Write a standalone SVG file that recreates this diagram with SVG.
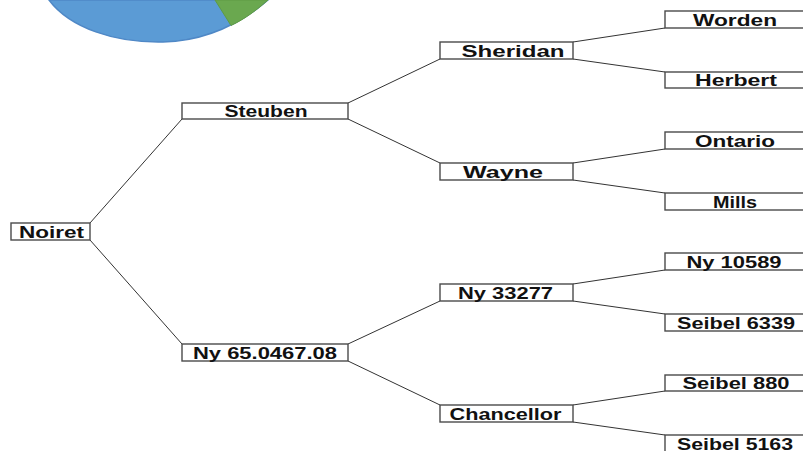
<svg xmlns="http://www.w3.org/2000/svg" width="803" height="451" viewBox="0 0 803 451">
<style>
.box{fill:#fff;stroke:#4a4a4a;stroke-width:1.4}
.lbl{font-family:"Liberation Sans",Arial,sans-serif;font-weight:bold;font-size:16px;fill:#111;text-anchor:middle}
.conn line{stroke:#333;stroke-width:1}
</style>
<rect width="803" height="451" fill="#fff"/>
<g id="pie">
<path d="M49,0 C70,28 115,43 163,42 C205,41 240,24 268,0 Z" fill="#5b9bd5" stroke="#4f88c6" stroke-width="1.5"/>
<path d="M215,0 L231,25.5 C245,19 258,9 268,0 Z" fill="#6aa84f" stroke="#5f9a45" stroke-width="1"/>
</g>
<g id="connectors" class="conn">
<line x1="90" y1="223" x2="182" y2="119"/>
<line x1="90" y1="240" x2="182" y2="344"/>
<line x1="348" y1="103" x2="440" y2="59"/>
<line x1="348" y1="119" x2="440" y2="163"/>
<line x1="348" y1="344" x2="440" y2="301"/>
<line x1="348" y1="361" x2="440" y2="405"/>
<line x1="573" y1="42" x2="665" y2="28"/>
<line x1="573" y1="59" x2="665" y2="72"/>
<line x1="573" y1="163" x2="665" y2="149"/>
<line x1="573" y1="180" x2="665" y2="193"/>
<line x1="573" y1="284" x2="665" y2="270"/>
<line x1="573" y1="301" x2="665" y2="314"/>
<line x1="573" y1="405" x2="665" y2="391"/>
<line x1="573" y1="422" x2="665" y2="435"/>
</g>
<g id="n-noiret"><rect class="box" x="11" y="223" width="79" height="17"/><text class="lbl" x="51.5" y="237.5" textLength="65" lengthAdjust="spacingAndGlyphs">Noiret</text></g>
<g id="n-steuben"><rect class="box" x="182" y="103" width="166" height="16"/><text class="lbl" x="266" y="117" textLength="83" lengthAdjust="spacingAndGlyphs">Steuben</text></g>
<g id="n-ny65"><rect class="box" x="182" y="344" width="166" height="17"/><text class="lbl" x="265" y="358.5" textLength="144" lengthAdjust="spacingAndGlyphs">Ny 65.0467.08</text></g>
<g id="n-sheridan"><rect class="box" x="440" y="42" width="133" height="17"/><text class="lbl" x="513" y="56.5" textLength="103" lengthAdjust="spacingAndGlyphs">Sheridan</text></g>
<g id="n-wayne"><rect class="box" x="440" y="163" width="133" height="17"/><text class="lbl" x="503" y="177.5" textLength="80" lengthAdjust="spacingAndGlyphs">Wayne</text></g>
<g id="n-ny33277"><rect class="box" x="440" y="284" width="133" height="17"/><text class="lbl" x="505.5" y="298.5" textLength="95" lengthAdjust="spacingAndGlyphs">Ny 33277</text></g>
<g id="n-chancellor"><rect class="box" x="440" y="405" width="133" height="17"/><text class="lbl" x="505.5" y="419.5" textLength="112" lengthAdjust="spacingAndGlyphs">Chancellor</text></g>
<g id="n-worden"><rect class="box" x="665" y="11" width="142" height="17"/><text class="lbl" x="735" y="25.5" textLength="84" lengthAdjust="spacingAndGlyphs">Worden</text></g>
<g id="n-herbert"><rect class="box" x="665" y="72" width="142" height="16"/><text class="lbl" x="736" y="86" textLength="82" lengthAdjust="spacingAndGlyphs">Herbert</text></g>
<g id="n-ontario"><rect class="box" x="665" y="132" width="142" height="17"/><text class="lbl" x="735" y="146.5" textLength="80" lengthAdjust="spacingAndGlyphs">Ontario</text></g>
<g id="n-mills"><rect class="box" x="665" y="193" width="142" height="17"/><text class="lbl" x="735" y="207.5" textLength="44" lengthAdjust="spacingAndGlyphs">Mills</text></g>
<g id="n-ny10589"><rect class="box" x="665" y="253" width="142" height="17"/><text class="lbl" x="734" y="267.5" textLength="95" lengthAdjust="spacingAndGlyphs">Ny 10589</text></g>
<g id="n-seibel6339"><rect class="box" x="665" y="314" width="142" height="17"/><text class="lbl" x="736" y="328.5" textLength="118" lengthAdjust="spacingAndGlyphs">Seibel 6339</text></g>
<g id="n-seibel880"><rect class="box" x="665" y="375" width="142" height="16"/><text class="lbl" x="736" y="389" textLength="107" lengthAdjust="spacingAndGlyphs">Seibel 880</text></g>
<g id="n-seibel5163"><rect class="box" x="665" y="435" width="142" height="18"/><text class="lbl" x="735" y="449.5" textLength="116" lengthAdjust="spacingAndGlyphs">Seibel 5163</text></g>
</svg>
